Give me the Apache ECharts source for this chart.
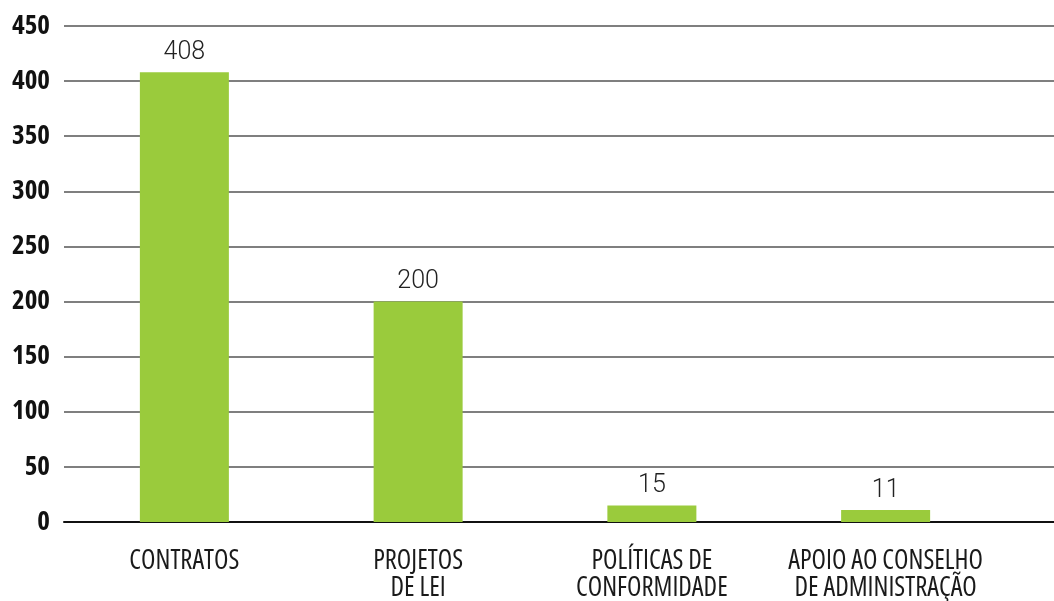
<!DOCTYPE html>
<html><head><meta charset="utf-8">
<script src="https://cdn.jsdelivr.net/npm/echarts@6/dist/echarts.min.js"></script>
<style>html,body{margin:0;padding:0;background:#fff}#c{width:1054px;height:601px}</style>
</head><body><div id="c"></div>
<script>
const categories = ['CONTRATOS', 'PROJETOS\nDE LEI', 'POLÍTICAS DE\nCONFORMIDADE', 'APOIO AO CONSELHO\nDE ADMINISTRAÇÃO'];
const values = [408, 200, 15, 11];
const yTicks = [0, 50, 100, 150, 200, 250, 300, 350, 400, 450];

const condensed = '"Open Sans", "DejaVu Sans Condensed", sans-serif';
const chart = echarts.init(document.getElementById('c'), null, {renderer: 'canvas'});
const yMin = yTicks[0], yMax = yTicks[yTicks.length - 1], yInt = yTicks[1] - yTicks[0];
chart.setOption({
  animation: false,
  grid: [
    {left: 67.5, right: 51.5, top: 26, bottom: 79, outerBoundsMode: 'none', containLabel: false},
    {left: 64, right: 0, top: 26, bottom: 79, outerBoundsMode: 'none', containLabel: false}
  ],
  xAxis: [
    {gridIndex: 0, type: 'category', data: categories,
     axisLine: {show: false}, axisTick: {show: false},
     axisLabel: {interval: 0, margin: 26, color: '#1a1a1a', fontFamily: condensed, fontStyle: 'condensed', fontSize: 26.5, lineHeight: 27}},
    {gridIndex: 1, type: 'value', min: 0, max: 1,
     axisLine: {show: true, onZero: false, lineStyle: {color: '#111', width: 2}},
     axisTick: {show: false}, axisLabel: {show: false}, splitLine: {show: false}}
  ],
  yAxis: [
    {gridIndex: 0, type: 'value', min: yMin, max: yMax, interval: yInt,
     axisLine: {show: false}, axisTick: {show: false}, axisLabel: {show: false}, splitLine: {show: false}},
    {gridIndex: 1, type: 'value', min: yMin, max: yMax, interval: yInt,
     axisLine: {show: false}, axisTick: {show: false},
     axisLabel: {margin: 14, color: '#111', fontFamily: condensed, fontStyle: 'condensed', fontWeight: 'bold', fontSize: 27},
     splitLine: {lineStyle: {color: '#555', width: 1.5}}}
  ],
  series: [{
    type: 'bar', xAxisIndex: 0, yAxisIndex: 0, data: values, barWidth: 89,
    itemStyle: {color: '#9acb3c'},
    label: {show: true, position: 'top', distance: 7, color: '#222', fontFamily: 'Roboto, sans-serif', fontWeight: 300, fontSize: 25}
  }]
});
</script></body></html>
